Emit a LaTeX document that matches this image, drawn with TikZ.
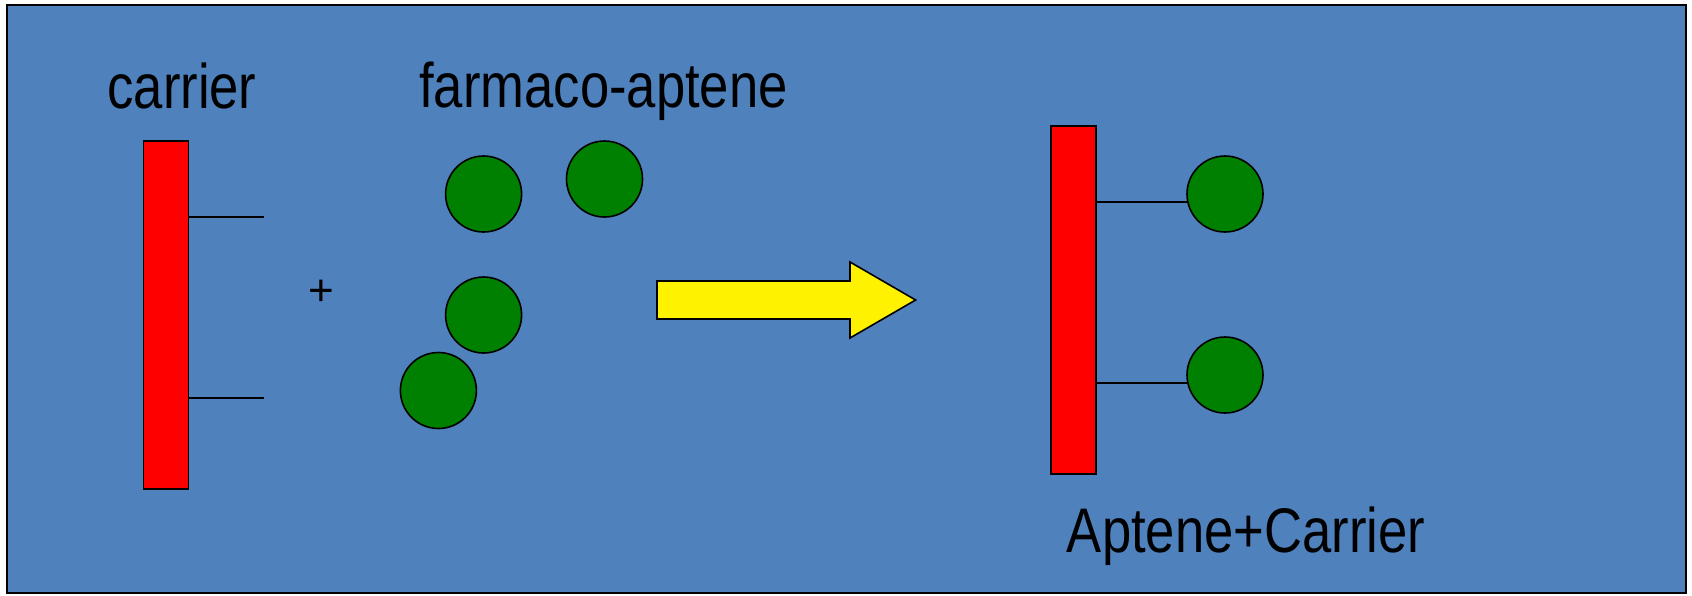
\documentclass[tikz,border=0pt]{standalone}
\usepackage{fontspec}
\setmainfont{Liberation Sans}
\definecolor{bgblue}{RGB}{79,129,189}
\definecolor{molgreen}{RGB}{0,128,0}
\begin{document}
\begin{tikzpicture}[x=0.5pt,y=-0.5pt,
  frame/.style={draw=black,line width=1pt,fill=bgblue},
  bar/.style={draw=black,line width=0.9pt,fill=red,rectangle,inner sep=0pt,outer sep=0pt,minimum width=22.5pt,minimum height=174pt},
  mol/.style={draw=black,line width=0.8pt,fill=molgreen,circle,inner sep=0pt,outer sep=0pt,minimum size=38pt},
  link/.style={draw=black,line width=0.7pt},
  bigtext/.style={anchor=base,inner sep=0pt,font=\fontsize{31.5}{36}\selectfont},
  plustext/.style={inner sep=0pt,font=\fontsize{22}{24}\selectfont},
  reactarrow/.style={draw=black,line width=0.8pt,fill=yellow}]
\useasboundingbox (0,0) rectangle (1692,595);
\fill[white] (0,0) rectangle (1692,595);
\draw[frame] (7,5) rectangle (1686,593);

% labels
\node[bigtext] (lcarrier) at (182,108) {\scalebox{0.835}[1]{carrier}};
\node[bigtext] (lfarmaco) at (603.5,107) {\scalebox{0.835}[1]{farmaco-aptene}};
\node[bigtext] (lresult) at (1246,552) {\scalebox{0.835}[1]{Aptene+Carrier}};
\node[plustext] (plus) at (321.7,292.5) {+};

% left carrier
\node[bar] (lbar) at (166,315) {};
\coordinate (le1) at (264,217);
\coordinate (le2) at (264,398);
\draw[link] (lbar.east |- le1) -- (le1);
\draw[link] (lbar.east |- le2) -- (le2);

% free haptens
\node[mol] (c1) at (483.6,194) {};
\node[mol] (c2) at (604.5,179) {};
\node[mol] (c3) at (483.6,315) {};
\node[mol] (c4) at (438.4,390.5) {};

% reaction arrow
\draw[reactarrow] (657,281) -- (850,281) -- (850,262) -- (915.6,300) -- (850,338) -- (850,319) -- (657,319) -- cycle;

% conjugate
\node[bar] (rbar) at (1073.5,300) {};
\coordinate (ra) at (1188,202);
\coordinate (rb) at (1188,383);
\draw[link] (rbar.east |- ra) -- (ra);
\draw[link] (rbar.east |- rb) -- (rb);
\node[mol] (c5) at (1225,194) {};
\node[mol] (c6) at (1225,375) {};
\end{tikzpicture}
\end{document}
